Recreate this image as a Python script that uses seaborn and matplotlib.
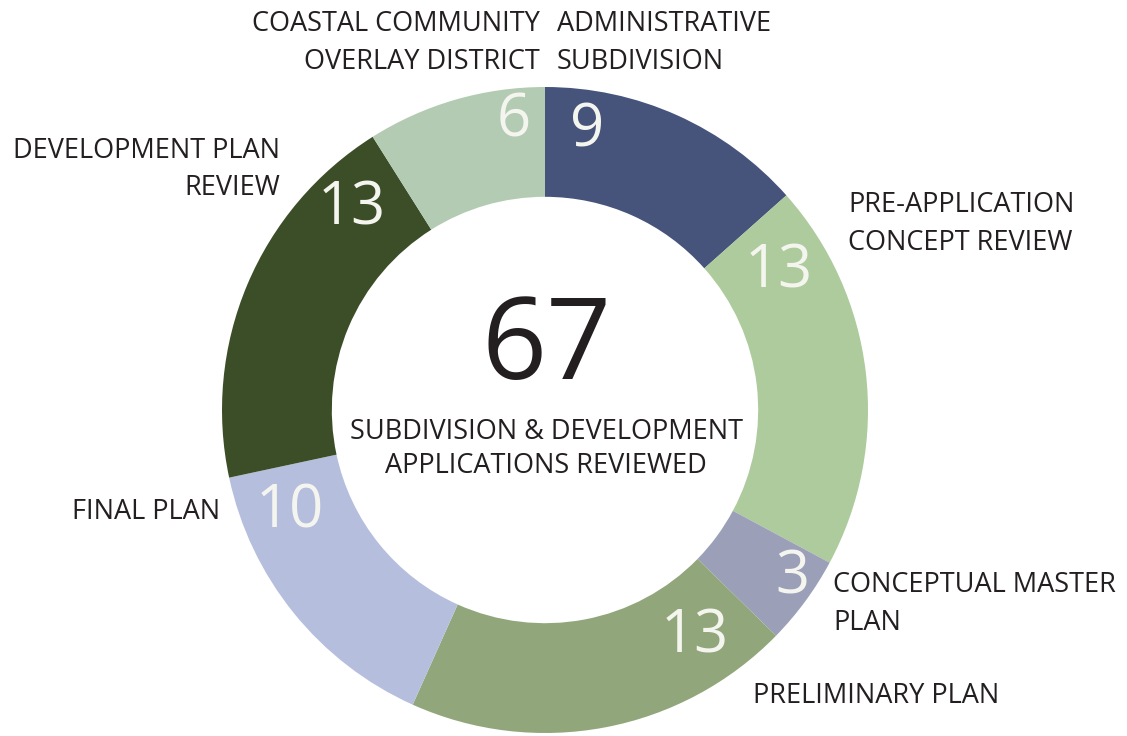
import numpy as np
import matplotlib
matplotlib.use("Agg")
import matplotlib.pyplot as plt
import seaborn as sns

categories = ["ADMINISTRATIVE\nSUBDIVISION", "PRE-APPLICATION\nCONCEPT REVIEW",
              "CONCEPTUAL MASTER\nPLAN", "PRELIMINARY PLAN", "FINAL PLAN",
              "DEVELOPMENT PLAN\nREVIEW", "COASTAL COMMUNITY\nOVERLAY DISTRICT"]
values = [9, 13, 3, 13, 10, 13, 6]
colors = ["#46537a", "#adcb9c", "#9ba0b8", "#91a77b", "#b5bfdd", "#3c4e28", "#b3cbb3"]
total_label = "SUBDIVISION & DEVELOPMENT\nAPPLICATIONS REVIEWED"

sns.set_theme(style="white")
plt.rcParams['font.family'] = ['Open Sans', 'DejaVu Sans']

W, H = 1127, 736
fig = plt.figure(figsize=(W / 100, H / 100), dpi=100)
fig.patch.set_facecolor("white")
R = 323.0
cx, cy = 545.0, 410.0
ax = fig.add_axes([(cx - R) / W, (H - cy - R) / H, 2 * R / W, 2 * R / H])
ax.pie(values, colors=colors, startangle=90, counterclock=False, radius=1,
       wedgeprops=dict(width=0.34, linewidth=0))
ax.set_xlim(-1, 1)
ax.set_ylim(-1, 1)
ax.set_aspect("equal")
ax.axis("off")

# number label placement (angle clockwise from top in degrees, radius fraction)
num_pos = [(8.5, 0.876), (59.4, 0.84), (124.2, 0.925), (146.6, 0.84),
           (248.2, 0.85), (316.3, 0.865), (-6.1, 0.90)]
for v, (ang, r) in zip(values, num_pos):
    a = np.deg2rad(ang)
    ax.text(r * np.sin(a), r * np.cos(a), str(v), ha="center", va="center",
            fontsize=43, color="#f5f5ef", fontweight="normal")

def px(x, y):
    return x / W, 1 - y / H

txtc = "#231f20"
lab_pos = [(557, 43, "left"), (848, 224, "left"), (833, 604, "left"),
           (753, 696, "left"), (220, 512, "right"), (280, 169.5, "right"),
           (540, 43, "right")]
for lab, (x, y, ha) in zip(categories, lab_pos):
    fig.text(*px(x, y), lab, ha=ha, va="center", fontsize=19.5, color=txtc,
             linespacing=1.47)

fig.text(*px(547, 349), str(sum(values)), ha="center", va="center",
         fontsize=82, color=txtc)
fig.text(*px(546, 449), total_label, ha="center", va="center", fontsize=19.5,
         color=txtc, linespacing=1.27)

fig.savefig("out.png", dpi=100, facecolor="white")
